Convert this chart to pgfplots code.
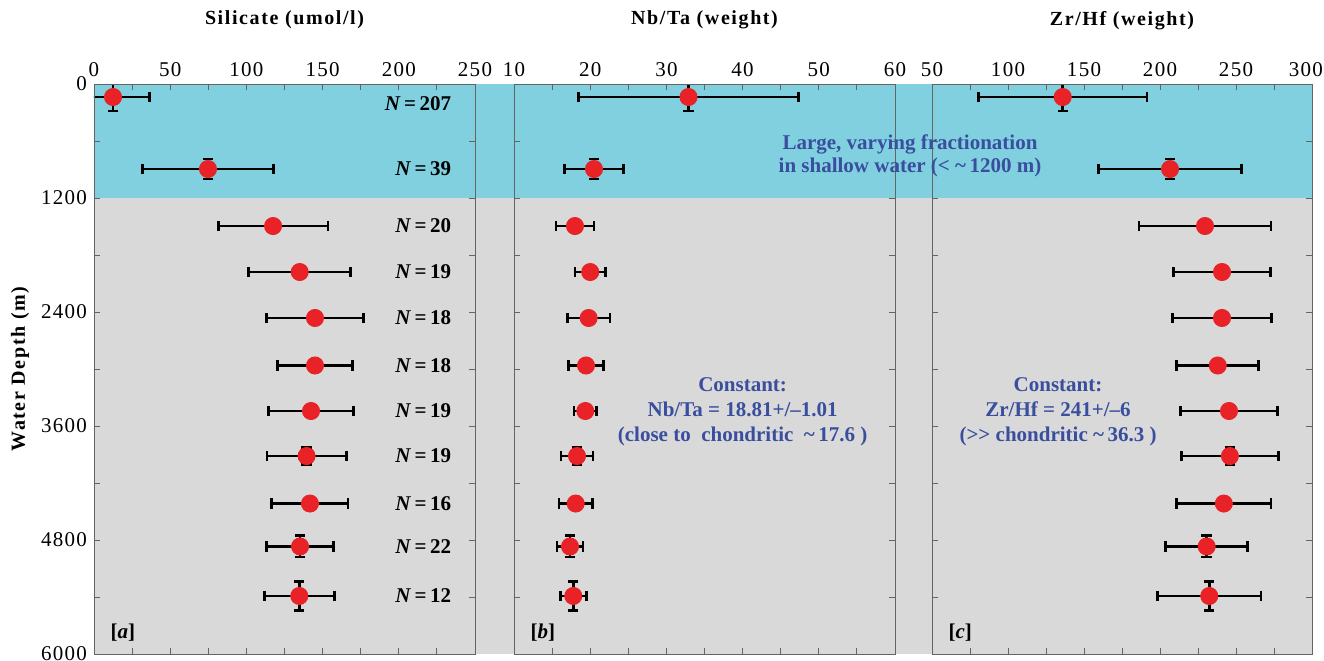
\documentclass[border=0pt]{standalone}
\usepackage{pgfplots}
\pgfplotsset{compat=1.18}
\usepackage{pgfplotstable}
\usepackage{fontspec}
\setmainfont{Liberation Serif}
\newfontfamily\tickfont[LetterSpace=6]{Liberation Serif}
\newfontfamily\titlefont[LetterSpace=8]{Liberation Serif}
\definecolor{shallow}{RGB}{128,208,224}
\definecolor{deep}{RGB}{217,217,217}
\definecolor{txtblue}{RGB}{58,78,158}
\definecolor{ptred}{RGB}{232,34,38}
\definecolor{axgray}{RGB}{100,100,100}

\pgfplotstableread{
d v ex ey
137 12.5 24 147
895 74.8 43 105
1495 117.5 36 0
1979 135 33.5 0
2463 145 32 0
2963 145 24.5 0
3442 142.4 28 0
3916 139.5 26 91
4416 141.7 25 0
4868 135.2 22 112
5389 134.7 23 150
}\silicate
\pgfplotstableread{
d v ex ey
137 32.9 14.4 147
895 20.5 3.9 105
1495 18.0 2.5 0
1979 20.0 2.0 0
2463 19.8 2.8 0
2963 19.45 2.3 0
3442 19.36 1.5 0
3916 18.27 2.1 91
4416 18.1 2.2 0
4868 17.35 1.7 112
5389 17.78 1.7 150
}\nbta
\pgfplotstableread{
d v ex ey
137 136 55.5 147
895 206.6 47 105
1495 229.6 43.5 0
1979 240.8 32 0
2463 240.8 32.5 0
2963 238 27 0
3442 245.4 32 0
3916 246 32 91
4416 242 31 0
4868 230.7 27 112
5389 232.4 34 150
}\zrhf

\pgfplotsset{
  panel/.style={
    scale only axis, width=190.5pt, height=285pt,
    ymin=0, ymax=6000, y dir=reverse,
    ytick={0,1200,...,6000}, minor ytick={600,1800,...,5400},
    axis on top,
    axis line style={axgray, line width=0.45pt},
    tick style={axgray, line width=0.45pt},
    major tick length=3pt, minor tick length=3pt,
    xticklabel pos=right,
    tick label style={font=\tickfont\fontsize{10.5}{12}\selectfont},
    /pgf/number format/assume math mode=true,
    /pgf/number format/.cd, 1000 sep={}, /pgfplots/.cd,
    minor x tick num=1,
    every axis title/.style={at={(axis description cs:0.5,1.112)}, anchor=center,
      font=\titlefont\bfseries\fontsize{10}{12}\selectfont},
  },
  pts/.style={only marks, mark=*, mark size=4.3pt,
    mark options={fill=ptred, draw=ptred},
    error bars/.cd, x dir=both, x explicit, y dir=both, y explicit,
    error bar style={black, line width=1.35pt},
    error mark options={black, line width=1.35pt, mark size=2.6pt, rotate=90}},
}
\newcommand{\Nlab}[1]{\bfseries\fontsize{10.5}{12}\selectfont\textit{N}\,=\,#1}

\begin{document}
\begin{tikzpicture}
\path[use as bounding box] (-47pt,-3pt) rectangle (615pt,327pt);
% background
\begin{axis}[at={(0pt,0pt)}, scale only axis, width=609pt, height=285pt,
  xmin=0, xmax=1, ymin=0, ymax=6000, y dir=reverse, hide axis]
  \fill[deep] (axis cs:0,1200) rectangle (axis cs:1,6000);
  \fill[shallow] (axis cs:0,0) rectangle (axis cs:1,1200);
\end{axis}
% panel a
\begin{axis}[panel, at={(0pt,0pt)}, xmin=0, xmax=250, xtick={0,50,...,250},
  title={Silicate (umol/l)},
  ylabel={Water Depth (m)},
  every axis y label/.style={at={(axis description cs:-0.194,0.5)}, rotate=90, anchor=center,
    font=\titlefont\bfseries\fontsize{10}{12}\selectfont}]
  \addplot+[pts] table[x=v, y=d, x error=ex, y error=ey] {\silicate};
  \node[anchor=east] at (axis cs:239,210) {\Nlab{207}};
  \node[anchor=east] at (axis cs:239,895) {\Nlab{39}};
  \node[anchor=east] at (axis cs:239,1495) {\Nlab{20}};
  \node[anchor=east] at (axis cs:239,1979) {\Nlab{19}};
  \node[anchor=east] at (axis cs:239,2463) {\Nlab{18}};
  \node[anchor=east] at (axis cs:239,2963) {\Nlab{18}};
  \node[anchor=east] at (axis cs:239,3442) {\Nlab{19}};
  \node[anchor=east] at (axis cs:239,3916) {\Nlab{19}};
  \node[anchor=east] at (axis cs:239,4416) {\Nlab{16}};
  \node[anchor=east] at (axis cs:239,4868) {\Nlab{22}};
  \node[anchor=east] at (axis cs:239,5389) {\Nlab{12}};
  \node[anchor=west, font=\bfseries\fontsize{10.5}{12}\selectfont] at (rel axis cs:0.025,0.037) {[\textit{a}]};
\end{axis}
% panel b
\begin{axis}[panel, at={(210pt,0pt)}, xmin=10, xmax=60, xtick={10,20,...,60},
  yticklabels={}, title={Nb/Ta (weight)}]
  \addplot+[pts] table[x=v, y=d, x error=ex, y error=ey] {\nbta};
  \node[align=center, text=txtblue, font=\bfseries\fontsize{10.5}{12.5}\selectfont]
    at (axis cs:40,3452) {Constant:\\Nb/Ta = 18.81+/\textendash1.01\\(close to\ \ chondritic\ \ \textasciitilde\,17.6 )};
  \node[anchor=west, font=\bfseries\fontsize{10.5}{12}\selectfont] at (rel axis cs:0.025,0.037) {[\textit{b}]};
\end{axis}
% panel c
\begin{axis}[panel, at={(419pt,0pt)}, width=190pt, xmin=50, xmax=300, xtick={50,100,...,300},
  xticklabels={50,100,150,200,250,\kern-6pt300},
  yticklabels={}, title={Zr/Hf (weight)}]
  \addplot+[pts] table[x=v, y=d, x error=ex, y error=ey] {\zrhf};
  \node[align=center, text=txtblue, font=\bfseries\fontsize{10.5}{12.5}\selectfont]
    at (axis cs:132.9,3452) {Constant:\\Zr/Hf = 241+/\textendash6\\({>}{>} chondritic \textasciitilde\,36.3 )};
  \node[anchor=west, font=\bfseries\fontsize{10.5}{12}\selectfont] at (rel axis cs:0.025,0.037) {[\textit{c}]};
\end{axis}
% shallow-water annotation spanning panels b and c
\begin{axis}[at={(0pt,0pt)}, scale only axis, width=609pt, height=285pt,
  xmin=0, xmax=1218, ymin=0, ymax=6000, y dir=reverse, hide axis]
  \node[align=center, text=txtblue, font=\bfseries\fontsize{10.5}{11.5}\selectfont]
    at (axis cs:816,755) {Large, varying fractionation\\in shallow water (< \textasciitilde\,1200 m)};
\end{axis}
\end{tikzpicture}
\end{document}
